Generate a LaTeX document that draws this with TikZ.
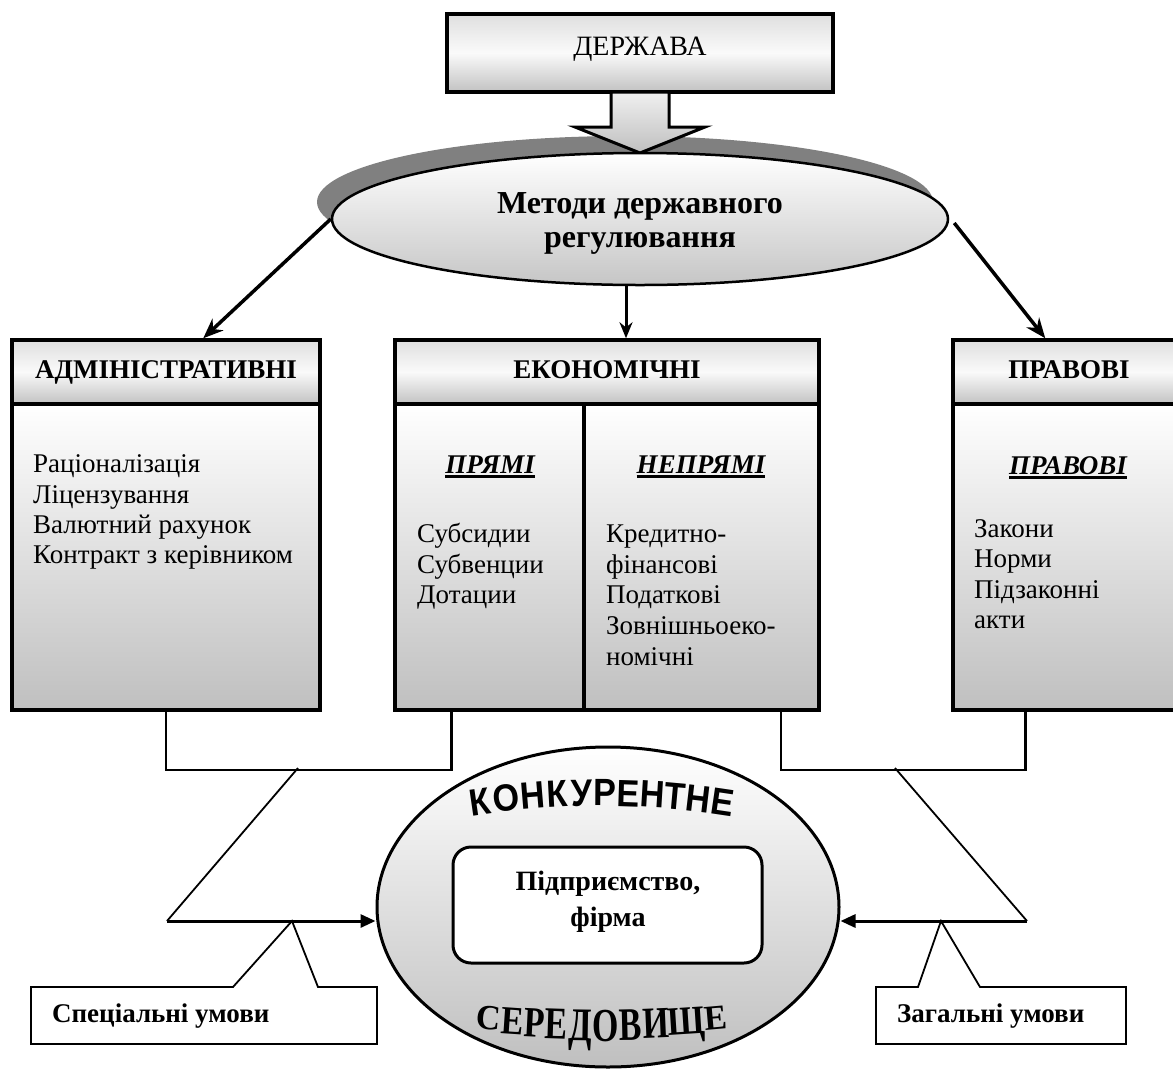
\documentclass[tikz,border=0pt]{standalone}
\usepackage{graphicx}
\usepackage{fontspec}
\setmainfont{Liberation Serif}
\newfontfamily\konkfont{Liberation Sans}
\usetikzlibrary{arrows.meta,shapes.geometric,calc}

% thick underline for the sub-headings
\newcommand\ulbar[1]{\setbox0=\hbox{#1}\rlap{\rule[-4.5pt]{\wd0}{2.6pt}}\box0}

\begin{document}
\begin{tikzpicture}[x=1pt,y=1pt,
  every node/.style={font=\fontsize{27}{31}\selectfont, inner sep=0pt},
  frame/.style={draw, line width=3.5pt},
  hdr/.style={frame, top color=gray!25, bottom color=gray!48, middle color=gray!4},
  body/.style={frame, top color=white, bottom color=gray!50},
  item/.style={anchor=base west},
  hdrtxt/.style={anchor=base, font=\fontsize{27}{31}\selectfont\bfseries},
  subhdr/.style={anchor=base, font=\fontsize{27}{31}\selectfont\bfseries\itshape},
  link/.style={line width=3.5pt, -{Stealth[length=20pt,width=16pt]}},
  linkc/.style={line width=3pt, -{Stealth[length=16pt,width=13pt]}},
  bracket/.style={line width=2.5pt},
  slant/.style={line width=1.8pt},
  flow/.style={line width=3pt, -{Triangle[length=15pt,width=13pt]}},
  note/.style={draw, line width=1.8pt, fill=white},
  arcletter/.style={anchor=base, font=\fontsize{38}{38}\selectfont\konkfont\bfseries},
  bowletter/.style={anchor=base, font=\fontsize{35}{35}\selectfont\bfseries},
]
\useasboundingbox (0,0) rectangle (1173,-1072);
\clip (0,0) rectangle (1173,-1072);

% ---- state box and block arrow ----
\node[hdr, minimum width=386pt, minimum height=78pt] (state) at (640,-53) {};
\node[anchor=base, font=\fontsize{28}{31}\selectfont] (stateT) at (640,-55) {ДЕРЖАВА};

\fill[gray] (625,-202) ellipse [x radius=308, y radius=66];
\draw[line width=3pt, top color=gray!12, bottom color=gray!50]
  (611,-92) -- (611,-127) -- (575,-127) -- (640,-153) -- (705,-127)
  -- (669,-127) -- (669,-92) -- cycle;

\node[ellipse, draw, line width=2.5pt, top color=white, bottom color=gray!45,
  minimum width=616pt, minimum height=132pt] (methods) at (640,-219) {};
\node[anchor=base, font=\fontsize{32}{34}\selectfont\bfseries] (methT1) at (640,-213) {Методи державного};
\node[anchor=base, font=\fontsize{32}{34}\selectfont\bfseries] (methT2) at (640,-247) {регулювання};

% ---- three method boxes ----
\node[body, minimum width=308pt, minimum height=306pt] (admB) at (166,-557) {};
\node[hdr, minimum width=308pt, minimum height=64pt] (admH) at (166,-372) {};
\node[hdrtxt] (admT) at (166,-378) {АДМІНІСТРАТИВНІ};

\node[body, minimum width=424pt, minimum height=306pt] (ecoB) at (607,-557) {};
\node[hdr, minimum width=424pt, minimum height=64pt] (ecoH) at (607,-372) {};
\node[hdrtxt] (ecoT) at (607,-378) {ЕКОНОМІЧНІ};
\draw[line width=3.5pt] (ecoH.south -| 584,0) -- (ecoB.south -| 584,0);

\node[body, minimum width=232pt, minimum height=306pt] (prvB) at (1069,-557) {};
\node[hdr, minimum width=232pt, minimum height=64pt] (prvH) at (1069,-372) {};
\node[hdrtxt] (prvT) at (1069,-378) {ПРАВОВІ};

% arrows from the methods ellipse
\draw[link] (methods.west) -- ($(admH.north west)+(193,0)$);
\draw[link] ($(methods.east)+(5,-4)$) -- ($(prvH.north west)+(94,0)$);
\draw[linkc] ($(methods.south)+(-14,1)$) -- ($(ecoH.north)+(19,0)$);

% ---- box contents ----
\node[item] (a1) at (33,-472) {Раціоналізація};
\node[item] (a2) at (33,-503) {Ліцензування};
\node[item] (a3) at (33,-533) {Валютний рахунок};
\node[item] (a4) at (33,-563) {Контракт з керівником};

\node[subhdr] (dirT) at (490,-473) {\ulbar{ПРЯМІ}};
\node[subhdr] (indT) at (701,-473) {\ulbar{НЕПРЯМІ}};
\node[item] (d1) at (417,-542) {Субсидии};
\node[item] (d2) at (417,-573) {Субвенции};
\node[item] (d3) at (417,-603) {Дотации};
\node[item] (i1) at (606,-542) {Кредитно-};
\node[item] (i2) at (606,-573) {фінансові};
\node[item] (i3) at (606,-603) {Податкові};
\node[item] (i4) at (606,-634) {Зовнішньоеко-};
\node[item] (i5) at (606,-665) {номічні};

\node[subhdr] (lawT) at (1068,-474) {\ulbar{ПРАВОВІ}};
\node[item] (l1) at (974,-537) {Закони};
\node[item] (l2) at (974,-567) {Норми};
\node[item] (l3) at (974,-598) {Підзаконні};
\node[item] (l4) at (974,-628) {акти};

% ---- competitive environment ----
\node[ellipse, draw, line width=3pt, top color=white, bottom color=gray!50,
  minimum width=462pt, minimum height=320pt] (env) at (608,-907) {};
\node[draw, line width=3pt, fill=white, rounded corners=18pt,
  minimum width=309pt, minimum height=116pt] (firm) at (607.5,-905) {};
\node[anchor=base, font=\fontsize{28}{31}\selectfont\bfseries] (firmT1) at (608,-890) {Підприємство,};
\node[anchor=base, font=\fontsize{28}{31}\selectfont\bfseries] (firmT2) at (608,-926) {фірма};

% arched word: letter / x / baseline / rotation
\foreach \ch/\x/\y/\r [count=\i] in {
  К/482.3/814.5/8.3, О/508.0/811.3/6.5, Н/533.6/808.8/4.7, К/558.3/807.1/3.0,
  У/582.1/806.2/1.3, Р/604.9/806.0/-0.3, Е/627.7/806.4/-1.9, Н/651.5/807.6/-3.5,
  Т/674.2/809.3/-5.1, Н/697.1/811.6/-6.7, Е/720.8/814.7/-8.4}
  \node[arcletter, rotate=\r] (k\i) at (\x,-\y) {\scalebox{0.9}[1]{\ch}};

% bulging word: letter / x / baseline / vertical stretch / rotation
\foreach \ch/\x/\y/\s/\r [count=\i] in {
  С/487.6/1029.3/1.01/-4.9, Е/511.8/1033.8/1.14/-3.9, Р/534.1/1036.9/1.23/-2.9,
  Е/556.3/1039.2/1.30/-1.9, Д/580.2/1040.6/1.34/-0.9, О/605.9/1041.0/1.35/0.2,
  В/631.1/1040.2/1.33/1.3, И/656.3/1038.2/1.27/2.4, Щ/687.3/1034.2/1.15/3.7,
  Е/716.3/1029.0/1.00/5.0}
  \node[bowletter, rotate=\r] (s\i) at (\x,-\y) {\scalebox{0.97}[\s]{\ch}};

% ---- brackets joining the boxes to the environment ----
\coordinate (lt) at (298,-768);
\coordinate (lc) at (167,-921);
\coordinate (rt) at (895,-768);
\coordinate (rc) at (1027,-921);
\draw[bracket] (admB.south) |- ($(ecoB.south west)+(58,-58)$) -- ($(ecoB.south west)+(58,0)$);
\draw[bracket] ($(ecoB.south east)+(-40,0)$) |- ($(prvB.south west)+(74,-58)$) -- ($(prvB.south west)+(74,0)$);
\draw[slant] (lt) -- (lc);
\draw[slant] (rt) -- (rc);
\draw[flow] (lc) -- (lc -| env.west);
\draw[flow] (rc) -- (rc -| env.east);

% ---- callouts ----
\coordinate (sp) at (292,-921);
\coordinate (gp) at (941,-921);
\draw[note] (233,-987) -- (31,-987) -- (31,-1044) -- (377,-1044) -- (377,-987) -- (318,-987) -- (sp) -- cycle;
\draw[note] (918,-987) -- (876,-987) -- (876,-1044) -- (1126,-1044) -- (1126,-987) -- (980,-987) -- (gp) -- cycle;
\node[anchor=base west, font=\fontsize{27}{31}\selectfont\bfseries] (specT) at (52,-1022) {Спеціальні умови};
\node[anchor=base west, font=\fontsize{27}{31}\selectfont\bfseries] (genT) at (897,-1022) {Загальні умови};
\end{tikzpicture}
\end{document}
